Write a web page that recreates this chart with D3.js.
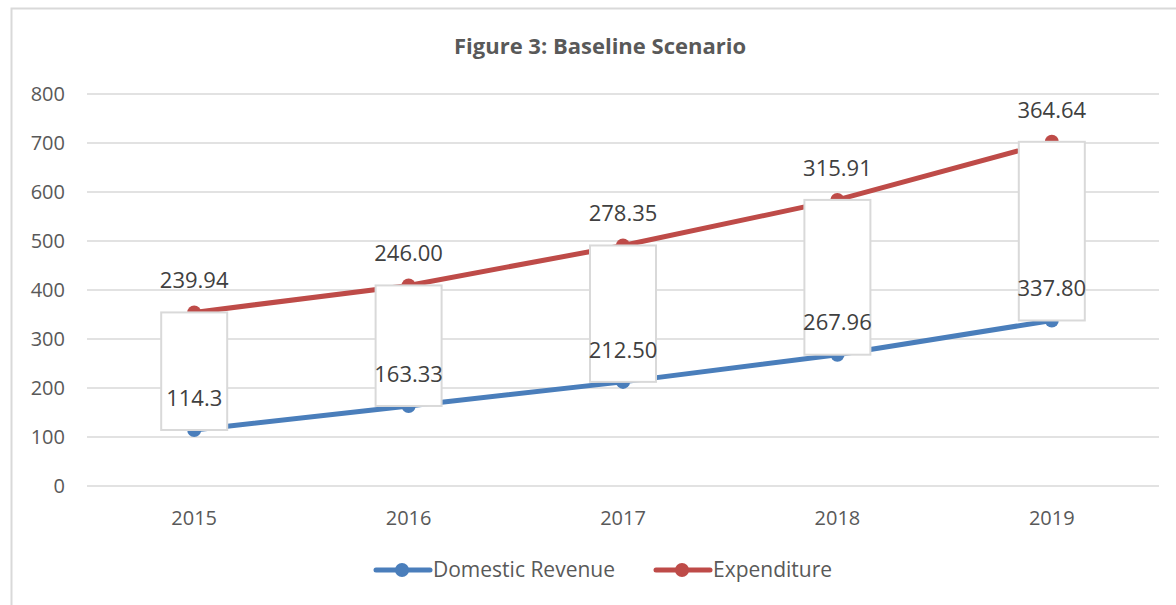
<!DOCTYPE html>
<html>
<head>
<meta charset="utf-8">
<script src="https://cdn.jsdelivr.net/npm/d3@7"></script>
<style>
    html, body { margin: 0; padding: 0; background: #fff; }
    svg { display: block; font-family: 'Open Sans', sans-serif; }
</style>
</head>
<body>
<svg id="chart" width="1176" height="605"></svg>
<script>
const years = ['2015', '2016', '2017', '2018', '2019'];
const revenue = [114.3, 163.33, 212.5, 267.96, 337.8];
const expenditure = [239.94, 246.0, 278.35, 315.91, 364.64];
const revenueLabels = ['114.3', '163.33', '212.50', '267.96', '337.80'];
const expenditureLabels = ['239.94', '246.00', '278.35', '315.91', '364.64'];
const yTicks = [0, 100, 200, 300, 400, 500, 600, 700, 800];

const blue = '#4a7ebb';
const red = '#be4b48';
const grid = '#d9d9d9';
const textColor = '#595959';

const svg = d3.select('#chart');

// outer chart border (right and bottom run off the picture)
svg.append('rect')
    .attr('x', 11.5).attr('y', 8.5)
    .attr('width', 1300).attr('height', 700)
    .attr('fill', 'none')
    .attr('stroke', grid)
    .attr('stroke-width', 2);

svg.append('text')
    .attr('x', 600).attr('y', 54)
    .attr('text-anchor', 'middle')
    .attr('font-size', 22)
    .attr('font-weight', 'bold')
    .attr('fill', textColor)
    .text('Figure 3: Baseline Scenario');

const x = d3.scalePoint().domain(years).range([87, 1159]).padding(0.5);
const y = d3.scaleLinear().domain([0, 800]).range([486, 94]);

// gridlines + y labels
const yAxis = svg.append('g');
yAxis.selectAll('line')
    .data(yTicks)
    .enter().append('line')
    .attr('x1', 87).attr('x2', 1159)
    .attr('y1', d => y(d)).attr('y2', d => y(d))
    .attr('stroke', grid)
    .attr('stroke-width', 1.5);

yAxis.selectAll('text')
    .data(yTicks)
    .enter().append('text')
    .attr('x', 65)
    .attr('y', d => y(d))
    .attr('dy', '0.35em')
    .attr('text-anchor', 'end')
    .attr('font-size', 20)
    .attr('fill', textColor)
    .text(d => d);

svg.append('g').selectAll('text')
    .data(years)
    .enter().append('text')
    .attr('x', d => x(d))
    .attr('y', 518)
    .attr('dy', '0.35em')
    .attr('text-anchor', 'middle')
    .attr('font-size', 20)
    .attr('fill', textColor)
    .text(d => d);

// stacked line: expenditure sits on top of revenue
const rows = years.map((yr, i) => ({ year: yr, revenue: revenue[i], expenditure: expenditure[i] }));
const stacked = d3.stack().keys(['revenue', 'expenditure'])(rows);

const series = [
    { key: 'revenue', color: blue, pts: stacked[0].map(d => ({ year: d.data.year, v: d[1] })), labels: revenueLabels },
    { key: 'expenditure', color: red, pts: stacked[1].map(d => ({ year: d.data.year, v: d[1] })), labels: expenditureLabels }
];

const line = d3.line().x(d => x(d.year)).y(d => y(d.v));

series.forEach(s => {
    svg.append('path')
        .datum(s.pts)
        .attr('d', line)
        .attr('fill', 'none')
        .attr('stroke', s.color)
        .attr('stroke-width', 5)
        .attr('stroke-linecap', 'round');

    svg.append('g').selectAll('circle')
        .data(s.pts)
        .enter().append('circle')
        .attr('cx', d => x(d.year))
        .attr('cy', d => y(d.v))
        .attr('r', 7)
        .attr('fill', s.color);
});

// up/down bars between the two lines
const boxW = 66;
svg.append('g').selectAll('rect')
    .data(stacked[1])
    .enter().append('rect')
    .attr('x', d => x(d.data.year) - boxW / 2)
    .attr('y', d => y(d[1]))
    .attr('width', boxW)
    .attr('height', d => y(d[0]) - y(d[1]))
    .attr('fill', '#fff')
    .attr('stroke', grid)
    .attr('stroke-width', 2);

// data labels (raw values, shown above each point)
series.forEach(s => {
    svg.append('g').selectAll('text')
        .data(s.pts)
        .enter().append('text')
        .attr('x', d => x(d.year))
        .attr('y', d => y(d.v) - 32)
        .attr('dy', '0.35em')
        .attr('text-anchor', 'middle')
        .attr('font-size', 22)
        .attr('fill', '#404040')
        .text((d, i) => s.labels[i]);
});

// legend
const legend = [
    { name: 'Domestic Revenue', color: blue, x: 373 },
    { name: 'Expenditure', color: red, x: 653 }
];
const lg = svg.append('g').selectAll('g')
    .data(legend)
    .enter().append('g')
    .attr('transform', d => `translate(${d.x},570)`);

lg.append('line')
    .attr('x1', 3).attr('x2', 57)
    .attr('stroke', d => d.color)
    .attr('stroke-width', 5)
    .attr('stroke-linecap', 'round');
lg.append('circle')
    .attr('cx', 29).attr('r', 7)
    .attr('fill', d => d.color);
lg.append('text')
    .attr('x', 60)
    .attr('dy', '0.35em')
    .attr('font-size', 21)
    .attr('fill', textColor)
    .text(d => d.name);
</script>
</body>
</html>
